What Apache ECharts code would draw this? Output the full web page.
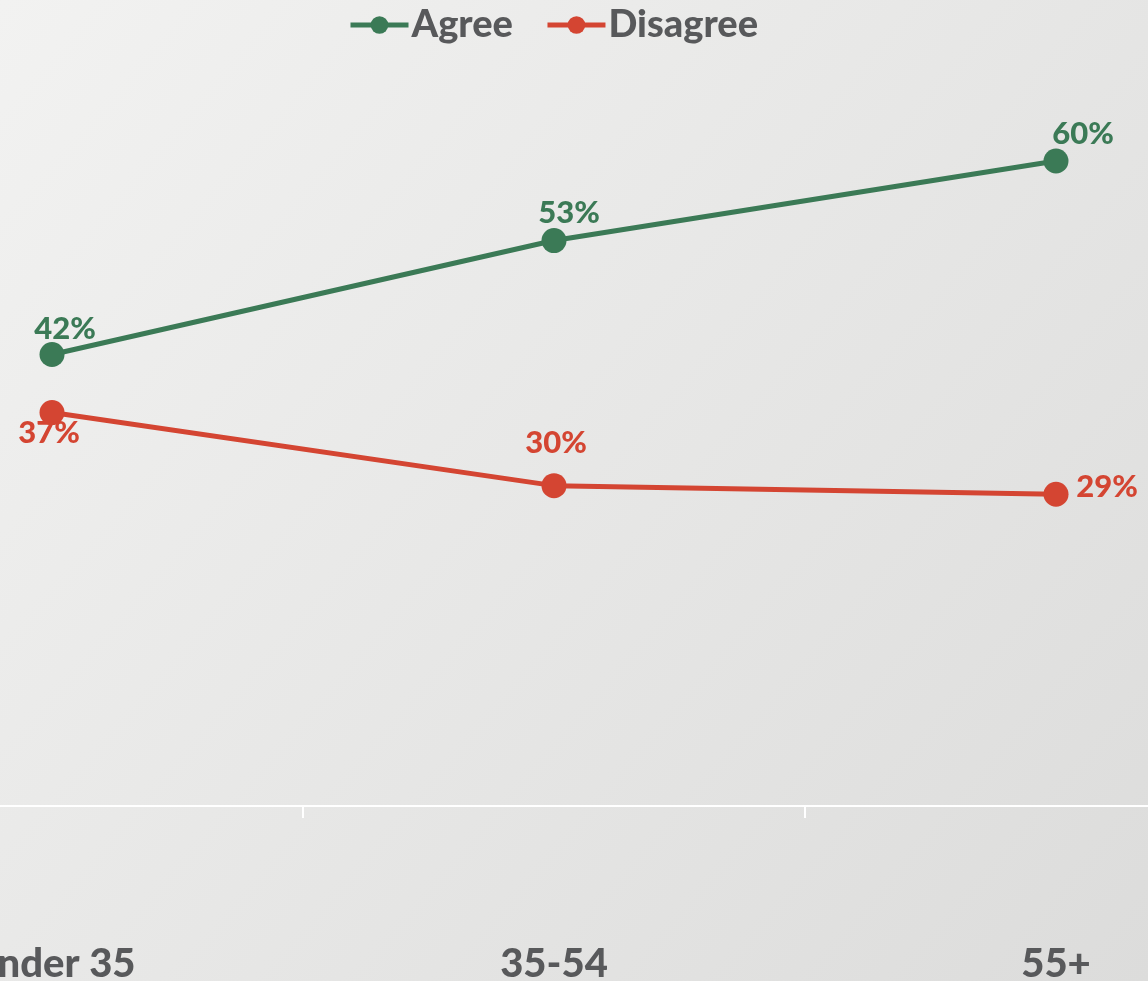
<!DOCTYPE html>
<html>
<head>
<meta charset="utf-8">
<style>
html,body{margin:0;padding:0;width:1148px;height:981px;overflow:hidden;}
#chart{width:1148px;height:981px;}
</style>
<script src="https://cdn.jsdelivr.net/npm/echarts@6/dist/echarts.min.js"></script>
</head>
<body>
<div id="chart"></div>
<script>
const categories = ["Under 35", "35-54", "55+"];
const agreeValues = [42, 52.6, 60];
const disagreeValues = [36.6, 29.8, 29];
const seriesNames = ["Agree", "Disagree"];

const GREEN = "#3b7a56";
const RED = "#d44532";
const GREY = "#58595b";
const FONT = "Lato";
const WEIGHT = 900;

const agreeOffsets = [[13, -26], [15, -28], [27, -27]];
const disagreeOffsets = [[-3, 20], [2, -43], [51, -7]];

function mkData(vals, offs, color) {
  return vals.map((v, i) => ({
    value: v,
    label: {
      show: true,
      position: "inside",
      offset: offs[i],
      formatter: p => Math.round(p.value) + "%",
      color: color,
      fontFamily: FONT,
      fontWeight: WEIGHT,
      fontSize: 31
    }
  }));
}

const chart = echarts.init(document.getElementById("chart"), null, {renderer: "canvas"});
chart.setOption({
  backgroundColor: {
    type: "linear", x: 0, y: 0, x2: 1, y2: 1,
    colorStops: [{offset: 0, color: "#f2f2f1"}, {offset: 1, color: "#dcdcdb"}]
  },
  animation: false,
  legend: {
    top: 1,
    left: 343,
    itemWidth: 58,
    itemHeight: 22,
    itemGap: 32,
    lineStyle: {width: 5},
    textStyle: {color: GREY, fontFamily: FONT, fontWeight: WEIGHT, fontSize: 38, padding: [0, 0, 0, -2]},
    data: seriesNames
  },
  grid: {
    left: -199,
    right: -159,
    top: 53.5,
    bottom: 175,
    outerBoundsMode: "none",
    containLabel: false
  },
  xAxis: {
    type: "category",
    data: categories,
    boundaryGap: true,
    axisLine: {lineStyle: {color: "#ffffff", width: 2}},
    axisTick: {show: true, length: 12, lineStyle: {color: "#ffffff", width: 2}},
    axisLabel: {
      margin: 138,
      color: GREY,
      fontFamily: FONT,
      fontWeight: WEIGHT,
      fontSize: 40
    }
  },
  yAxis: {
    type: "value",
    min: 0,
    max: 70,
    show: false,
    splitLine: {show: false}
  },
  series: [
    {
      name: seriesNames[0],
      type: "line",
      data: mkData(agreeValues, agreeOffsets, GREEN),
      color: GREEN,
      symbol: "circle",
      symbolSize: 25,
      lineStyle: {width: 5, color: GREEN},
      itemStyle: {color: GREEN}
    },
    {
      name: seriesNames[1],
      type: "line",
      data: mkData(disagreeValues, disagreeOffsets, RED),
      color: RED,
      symbol: "circle",
      symbolSize: 25,
      lineStyle: {width: 5, color: RED},
      itemStyle: {color: RED}
    }
  ]
});
</script>
</body>
</html>
